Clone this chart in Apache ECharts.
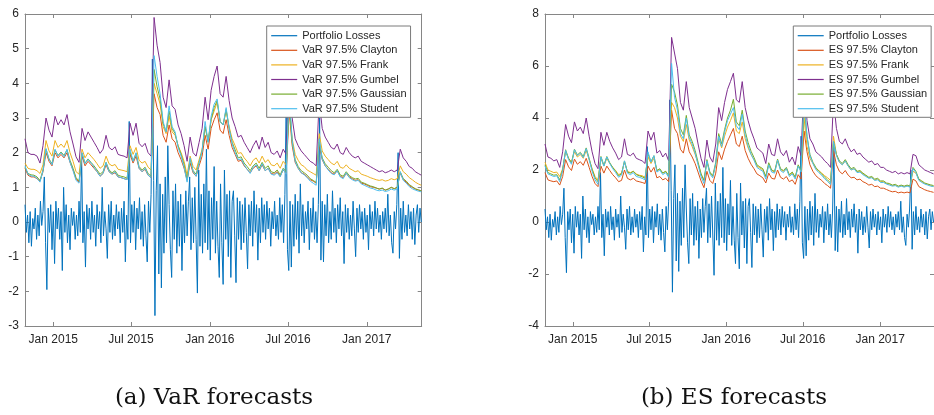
<!DOCTYPE html>
<html>
<head>
<meta charset="utf-8">
<script src="https://cdn.jsdelivr.net/npm/echarts@6/dist/echarts.min.js"></script>
<style>
  html, body { margin: 0; padding: 0; background: #fff; }
  #chart { width: 934px; height: 415px; }
</style>
</head>
<body>
<div id="chart"></div>
<script>
// x axis: daily dates from 27 Oct 2014, risk curves sampled weekly, losses every 3 days
const startDate = '2014-10-27'
const endDate = '2017-05-09'
const curveStepDays = 7
const lossStepDays = 3

const tickDates = ['2015-01-01', '2015-07-01', '2016-01-01', '2016-07-01', '2017-01-01']
const tickLabels = ['Jan 2015', 'Jul 2015', 'Jan 2016', 'Jul 2016', 'Jan 2017']

const losses = [
  0.5, -0.3, 0.2, -0.6, 0.3, -0.7, 0.1, -0.2, 0.4, -0.5,
  0.2, -0.4, 0.6, -0.1, 0.3, 1.3, -0.6, -1.95, 0.4, -0.3,
  0.5, -0.8, 0.3, -1.2, 0.6, -0.2, 0.4, -0.5, 0.3, -1.4,
  1.0, -0.3, 0.5, -0.6, 0.2, -0.8, 0.4, -0.1, 0.3, -0.5,
  0.2, -0.4, 0.6, -0.3, 1.9, -0.6, 0.3, -1.3, 0.5, -0.2,
  0.4, -0.5, 0.6, -0.3, 0.2, -0.7, 0.5, -0.2, 0.3, -0.6,
  1.0, -0.4, 0.3, -0.2, -1.05, 0.5, -0.3, 0.6, -0.5, 0.2,
  -0.4, 0.5, -0.2, 0.3, -0.6, 0.4, -0.3, 0.6, -1.15, 0.2,
  -0.5, 2.9, -0.6, 0.5, -0.3, 0.6, -0.8, 0.4, -0.2, 0.7,
  -0.5, 0.3, -0.7, 0.5, -0.4, -1.15, 0.6, -0.3, 0.8, 4.7,
  1.2, -2.7, 0.9, 2.2, -1.5, 1.1, -1.9, 0.8, -0.9, 1.3,
  -0.6, 2.2, 0.5, -0.8, -1.6, 0.9, -0.5, 1.1, -0.9, 0.6,
  -0.7, 0.8, -1.4, 0.5, -0.6, 0.9, -0.4, 0.6, 1.3, -0.8,
  0.7, -0.6, 1.0, -0.5, -2.05, 1.5, -0.7, 0.8, -0.9, 1.1,
  -0.6, 2.1, -0.8, 0.9, -1.1, 0.7, -0.5, 1.6, -0.9, 0.6,
  -0.7, -1.6, 1.1, -0.6, -1.8, 1.5, -0.5, 0.8, -1.0, 0.9,
  -1.6, 0.6, 0.9, -0.4, -1.75, 0.7, -0.5, 0.6, -0.8, 0.5,
  -0.6, 0.7, -0.3, -1.35, 0.5, -0.4, 0.6, -0.7, 0.9, -0.3,
  0.5, -1.1, 0.4, -0.6, 0.7, -0.3, 0.5, -0.5, 0.6, -0.2,
  0.4, -0.7, 0.3, -0.2, 0.6, -0.4, 0.2, -0.5, 0.7, -0.3,
  0.5, -0.6, 0.8, 3.3, -0.8, -1.4, 0.6, -1.3, 0.5, -0.7,
  0.8, -0.5, 0.6, -0.9, 1.1, -0.4, 0.5, -0.6, 0.3, -0.2,
  0.6, -0.8, 0.4, -0.3, 0.7, -0.5, 0.3, -0.6, 0.5, 3.0,
  -1.1, 0.6, -1.15, 0.5, -0.4, 0.8, -0.6, 0.3, -0.5, 0.9,
  -0.3, 0.4, -0.6, 0.5, -0.2, 0.7, -0.4, 0.3, -1.2, 0.5,
  -0.3, 0.4, -0.5, 0.2, -0.4, 0.6, -0.2, -1.0, 0.4, -0.3,
  0.5, -0.2, 0.3, -0.5, 0.4, -0.3, 0.2, -0.8, 0.5, -0.2,
  0.3, -0.4, 0.6, -0.2, 0.4, -0.3, 0.2, -0.5, 0.3, -0.2,
  0.4, -0.3, 0.8, -0.4, 0.2, -0.6, -0.9, 0.3, -0.2, 0.5,
  2.0, -1.05, 0.4, -0.5, 0.6, -0.3, 0.2, -0.4, 0.5, -0.2,
  0.3, -0.5, 0.4, -0.65, 0.2, 0.5, -0.3, 0.4, 0.0
]

// (a) VaR 97.5%
const varClayton = [
  1.55, 1.35, 1.30, 1.30, 1.25, 1.18, 1.45, 2.00, 1.75, 1.62,
  2.00, 1.85, 1.95, 1.85, 2.00, 1.72, 1.50, 1.25, 1.15, 1.90,
  1.62, 1.75, 1.65, 1.55, 1.45, 1.32, 1.40, 1.65, 1.45, 1.38,
  1.42, 1.30, 1.28, 1.25, 1.22, 1.95, 1.70, 1.90, 1.55, 1.45,
  1.52, 1.35, 1.28, 3.70, 3.30, 3.10, 2.50, 2.30, 2.80, 2.40,
  2.30, 2.00, 1.80, 1.55, 1.20, 1.70, 1.42, 1.32, 1.62, 1.90,
  2.50, 2.10, 2.70, 2.95, 3.15, 2.65, 2.55, 2.95, 2.50, 2.15,
  1.95, 1.75, 1.78, 1.62, 1.52, 1.42, 1.55, 1.62, 1.48, 1.65,
  1.48, 1.55, 1.40, 1.38, 1.45, 1.32, 1.50, 1.40, 3.20, 2.20,
  1.72, 1.55, 1.42, 1.38, 1.30, 1.22, 1.18, 1.12, 2.25, 1.80,
  1.62, 1.52, 1.42, 1.38, 1.48, 1.32, 1.28, 1.40, 1.30, 1.25,
  1.20, 1.22, 1.12, 1.10, 1.06, 1.02, 1.00, 0.98, 0.95, 0.97,
  0.92, 0.95, 1.00, 0.96, 1.00, 1.42, 1.22, 1.15, 1.05, 1.00,
  0.95, 0.92, 0.90
]
const varFrank = [
  1.70, 1.55, 1.52, 1.52, 1.48, 1.40, 1.65, 2.35, 2.05, 1.90,
  2.35, 2.15, 2.25, 2.15, 2.35, 2.00, 1.75, 1.45, 1.38, 2.10,
  1.85, 2.00, 1.90, 1.80, 1.68, 1.55, 1.62, 1.90, 1.68, 1.62,
  1.66, 1.52, 1.50, 1.48, 1.45, 2.20, 1.95, 2.15, 1.78, 1.70,
  1.75, 1.58, 1.50, 4.00, 3.70, 3.40, 2.75, 2.55, 3.05, 2.60,
  2.50, 2.20, 2.00, 1.75, 1.35, 1.90, 1.60, 1.50, 1.80, 2.10,
  2.75, 2.35, 2.95, 3.20, 3.45, 2.90, 2.80, 3.20, 2.75, 2.40,
  2.20, 1.98, 2.00, 1.85, 1.75, 1.62, 1.78, 1.85, 1.70, 1.90,
  1.72, 1.80, 1.65, 1.62, 1.70, 1.55, 1.75, 1.65, 3.40, 2.40,
  1.95, 1.78, 1.65, 1.60, 1.50, 1.45, 1.40, 1.35, 2.55, 2.05,
  1.90, 1.80, 1.70, 1.65, 1.75, 1.58, 1.55, 1.65, 1.55, 1.50,
  1.45, 1.48, 1.38, 1.35, 1.32, 1.28, 1.25, 1.22, 1.20, 1.22,
  1.18, 1.20, 1.25, 1.22, 1.25, 1.62, 1.45, 1.38, 1.28, 1.22,
  1.15, 1.10, 1.06
]
const varGumbel = [
  2.40, 2.00, 1.95, 1.95, 1.90, 1.70, 2.20, 3.00, 2.65, 2.45,
  3.05, 2.80, 2.95, 2.80, 3.10, 2.60, 2.25, 1.88, 1.72, 2.70,
  2.35, 2.60, 2.45, 2.30, 2.15, 1.98, 2.10, 2.50, 2.15, 2.08,
  2.17, 1.95, 1.92, 1.90, 1.85, 2.85, 2.50, 2.85, 2.27, 2.17,
  2.27, 2.00, 1.90, 5.90, 5.10, 4.60, 3.60, 3.30, 4.10, 3.35,
  3.25, 2.80, 2.55, 2.20, 1.75, 2.45, 2.00, 1.90, 2.30, 2.70,
  3.60, 2.95, 3.80, 4.20, 4.50, 3.70, 3.60, 4.20, 3.50, 3.00,
  2.75, 2.45, 2.50, 2.30, 2.15, 2.00, 2.20, 2.35, 2.10, 2.45,
  2.15, 2.30, 2.00, 1.95, 2.05, 1.85, 2.10, 1.95, 4.40, 3.00,
  2.40, 2.20, 2.05, 1.95, 1.85, 1.75, 1.70, 1.62, 3.50, 2.70,
  2.45, 2.30, 2.15, 2.10, 2.25, 2.00, 1.95, 2.15, 2.00, 1.90,
  1.85, 1.90, 1.75, 1.70, 1.65, 1.60, 1.55, 1.50, 1.45, 1.48,
  1.42, 1.45, 1.50, 1.45, 1.50, 2.10, 1.85, 1.75, 1.60, 1.55,
  1.45, 1.40, 1.35
]
const varGaussian = [
  1.58, 1.40, 1.36, 1.35, 1.30, 1.20, 1.50, 2.10, 1.82, 1.68,
  2.08, 1.92, 2.02, 1.92, 2.08, 1.78, 1.55, 1.28, 1.18, 1.98,
  1.70, 1.82, 1.72, 1.62, 1.50, 1.38, 1.45, 1.72, 1.50, 1.42,
  1.48, 1.35, 1.32, 1.30, 1.26, 2.02, 1.76, 1.98, 1.60, 1.50,
  1.58, 1.40, 1.32, 4.40, 3.90, 3.55, 2.85, 2.60, 3.20, 2.70,
  2.55, 2.20, 1.95, 1.65, 1.22, 1.80, 1.48, 1.38, 1.72, 2.05,
  2.75, 2.30, 2.95, 3.30, 3.50, 2.90, 2.80, 3.25, 2.70, 2.30,
  2.08, 1.85, 1.88, 1.70, 1.60, 1.48, 1.62, 1.70, 1.55, 1.72,
  1.55, 1.62, 1.45, 1.42, 1.50, 1.36, 1.55, 1.45, 3.50, 2.30,
  1.80, 1.60, 1.48, 1.42, 1.35, 1.25, 1.20, 1.14, 2.30, 1.85,
  1.68, 1.58, 1.48, 1.42, 1.52, 1.36, 1.32, 1.45, 1.34, 1.28,
  1.24, 1.26, 1.15, 1.12, 1.08, 1.04, 1.02, 0.98, 0.95, 0.98,
  0.92, 0.95, 1.00, 0.96, 1.00, 1.45, 1.25, 1.18, 1.08, 1.02,
  0.96, 0.93, 0.90
]
const varStudent = [
  1.62, 1.38, 1.33, 1.32, 1.26, 1.15, 1.48, 2.12, 1.80, 1.65,
  2.10, 1.90, 2.00, 1.88, 2.10, 1.72, 1.48, 1.20, 1.12, 2.00,
  1.68, 1.80, 1.70, 1.58, 1.45, 1.32, 1.40, 1.72, 1.45, 1.38,
  1.45, 1.30, 1.28, 1.25, 1.22, 2.10, 1.75, 2.00, 1.55, 1.45,
  1.55, 1.35, 1.28, 4.80, 4.20, 3.70, 2.90, 2.60, 3.35, 2.75,
  2.60, 2.15, 1.90, 1.58, 1.15, 1.85, 1.45, 1.32, 1.70, 2.05,
  2.90, 2.30, 3.05, 3.40, 3.55, 2.90, 2.80, 3.30, 2.70, 2.25,
  2.00, 1.80, 1.82, 1.65, 1.52, 1.40, 1.58, 1.65, 1.48, 1.68,
  1.48, 1.55, 1.38, 1.35, 1.42, 1.30, 1.52, 1.38, 3.80, 2.35,
  1.75, 1.55, 1.42, 1.36, 1.28, 1.18, 1.12, 1.06, 2.40, 1.82,
  1.62, 1.50, 1.40, 1.36, 1.48, 1.30, 1.25, 1.42, 1.28, 1.22,
  1.18, 1.20, 1.10, 1.06, 1.02, 0.98, 0.96, 0.92, 0.90, 0.92,
  0.88, 0.90, 0.95, 0.92, 0.95, 1.45, 1.20, 1.12, 1.02, 0.96,
  0.92, 0.89, 0.87
]

// (b) ES 97.5%
const esClayton = [
  1.90, 1.62, 1.58, 1.55, 1.58, 1.42, 1.75, 2.40, 2.12, 1.98,
  2.42, 2.22, 2.32, 2.18, 2.45, 2.10, 1.75, 1.48, 1.36, 2.15,
  1.88, 2.15, 1.98, 1.82, 1.70, 1.55, 1.60, 2.00, 1.68, 1.62,
  1.68, 1.58, 1.55, 1.52, 1.48, 2.15, 1.92, 2.10, 1.70, 1.75,
  1.62, 1.68, 1.55, 4.30, 3.60, 3.40, 2.80, 2.65, 3.20, 2.70,
  2.50, 2.25, 1.92, 1.58, 1.32, 1.95, 1.60, 1.48, 1.88, 2.70,
  2.40, 2.80, 3.10, 3.35, 3.60, 3.00, 2.90, 3.30, 2.75, 2.45,
  2.22, 2.05, 1.85, 1.78, 1.70, 1.50, 1.88, 1.68, 1.65, 2.00,
  1.72, 1.65, 1.75, 1.55, 1.62, 1.45, 1.82, 1.65, 3.50, 2.70,
  2.20, 1.95, 1.78, 1.68, 1.60, 1.48, 1.40, 1.30, 2.75, 2.20,
  1.95, 1.85, 1.98, 1.80, 1.70, 1.72, 1.62, 1.65, 1.55, 1.50,
  1.42, 1.45, 1.36, 1.38, 1.30, 1.30, 1.25, 1.20, 1.16, 1.18,
  1.12, 1.15, 1.12, 1.15, 1.12, 1.65, 1.58, 1.36, 1.30, 1.24,
  1.20, 1.17, 1.14
]
const esFrank = [
  2.30, 2.00, 1.95, 1.90, 1.92, 1.75, 2.05, 2.70, 2.45, 2.30,
  2.70, 2.50, 2.60, 2.45, 2.75, 2.40, 2.05, 1.75, 1.62, 2.45,
  2.15, 2.45, 2.25, 2.10, 1.98, 1.82, 1.88, 2.30, 1.95, 1.90,
  1.95, 1.85, 1.80, 1.78, 1.72, 2.50, 2.25, 2.45, 1.98, 2.02,
  1.88, 1.95, 1.80, 4.60, 4.40, 4.00, 3.30, 3.10, 3.75, 3.15,
  2.90, 2.60, 2.25, 1.85, 1.60, 2.30, 1.90, 1.75, 2.20, 3.20,
  2.85, 3.30, 3.65, 3.90, 4.20, 3.50, 3.40, 3.85, 3.20, 2.85,
  2.60, 2.40, 2.15, 2.08, 2.00, 1.75, 2.20, 1.98, 1.92, 2.35,
  2.02, 1.95, 2.05, 1.80, 1.90, 1.72, 2.15, 1.95, 4.00, 2.90,
  2.45, 2.25, 2.05, 1.98, 1.88, 1.78, 1.70, 1.60, 3.30, 2.60,
  2.30, 2.20, 2.35, 2.15, 2.00, 2.05, 1.92, 1.95, 1.85, 1.78,
  1.70, 1.72, 1.62, 1.65, 1.55, 1.55, 1.48, 1.45, 1.40, 1.42,
  1.36, 1.40, 1.36, 1.40, 1.36, 1.95, 1.88, 1.62, 1.55, 1.48,
  1.45, 1.40, 1.37
]
const esGumbel = [
  3.00, 2.50, 2.45, 2.35, 2.40, 2.10, 2.70, 3.75, 3.30, 3.05,
  3.85, 3.50, 3.65, 3.40, 4.00, 3.30, 2.70, 2.25, 2.05, 3.45,
  2.95, 3.45, 3.10, 2.85, 2.65, 2.40, 2.50, 3.20, 2.60, 2.55,
  2.65, 2.45, 2.40, 2.35, 2.25, 3.50, 3.15, 3.45, 2.65, 2.75,
  2.50, 2.65, 2.35, 7.10, 6.50, 5.90, 4.60, 4.30, 5.40, 4.40,
  4.00, 3.60, 3.00, 2.45, 2.10, 3.15, 2.50, 2.30, 3.00, 4.40,
  3.90, 4.60, 5.10, 5.40, 5.72, 4.70, 4.60, 5.40, 4.40, 3.90,
  3.50, 3.20, 2.85, 2.75, 2.65, 2.25, 3.00, 2.60, 2.55, 3.20,
  2.70, 2.55, 2.75, 2.30, 2.50, 2.20, 2.90, 2.55, 5.50, 3.90,
  3.20, 3.00, 2.70, 2.60, 2.50, 2.35, 2.25, 2.10, 4.70, 3.60,
  3.10, 3.00, 3.20, 2.90, 2.70, 2.80, 2.60, 2.65, 2.50, 2.40,
  2.30, 2.35, 2.20, 2.25, 2.10, 2.10, 2.00, 1.95, 1.90, 1.95,
  1.85, 1.90, 1.85, 1.90, 1.85, 2.60, 2.55, 2.20, 2.10, 2.00,
  1.95, 1.90, 1.85
]
const esGaussian = [
  2.20, 1.90, 1.85, 1.80, 1.82, 1.62, 2.00, 2.78, 2.45, 2.28,
  2.80, 2.58, 2.68, 2.52, 2.85, 2.45, 2.02, 1.70, 1.55, 2.52,
  2.18, 2.52, 2.28, 2.10, 1.95, 1.78, 1.85, 2.35, 1.92, 1.88,
  1.95, 1.82, 1.78, 1.74, 1.68, 2.62, 2.32, 2.55, 1.98, 2.05,
  1.88, 1.95, 1.78, 5.30, 5.00, 4.50, 3.60, 3.35, 4.10, 3.35,
  3.10, 2.75, 2.30, 1.85, 1.60, 2.40, 1.92, 1.78, 2.30, 3.40,
  3.00, 3.55, 4.00, 4.30, 4.72, 3.85, 3.70, 4.30, 3.50, 3.05,
  2.72, 2.48, 2.20, 2.12, 2.05, 1.75, 2.28, 2.00, 1.95, 2.42,
  2.05, 1.98, 2.10, 1.82, 1.92, 1.72, 2.20, 1.98, 4.50, 3.30,
  2.60, 2.30, 2.10, 1.95, 1.85, 1.72, 1.62, 1.50, 3.10, 2.60,
  2.35, 2.25, 2.40, 2.20, 2.05, 2.10, 1.95, 1.98, 1.88, 1.80,
  1.72, 1.75, 1.65, 1.68, 1.58, 1.58, 1.50, 1.48, 1.42, 1.45,
  1.38, 1.42, 1.38, 1.42, 1.38, 2.10, 1.95, 1.65, 1.58, 1.50,
  1.46, 1.43, 1.40
]
const esStudent = [
  2.15, 1.85, 1.80, 1.75, 1.78, 1.55, 1.98, 2.75, 2.40, 2.22,
  2.78, 2.55, 2.65, 2.48, 2.82, 2.40, 1.95, 1.62, 1.45, 2.50,
  2.15, 2.50, 2.25, 2.05, 1.90, 1.72, 1.80, 2.35, 1.88, 1.82,
  1.90, 1.75, 1.72, 1.68, 1.62, 2.70, 2.30, 2.55, 1.92, 2.00,
  1.82, 1.90, 1.72, 6.10, 4.80, 4.30, 3.40, 3.20, 4.00, 3.25,
  3.00, 2.65, 2.20, 1.75, 1.48, 2.35, 1.85, 1.70, 2.25, 3.30,
  2.90, 3.45, 3.90, 4.15, 4.40, 3.70, 3.55, 4.15, 3.35, 2.92,
  2.60, 2.38, 2.10, 2.02, 1.95, 1.65, 2.20, 1.92, 1.88, 2.38,
  1.98, 1.90, 2.05, 1.75, 1.85, 1.65, 2.15, 1.92, 4.80, 3.30,
  2.55, 2.25, 2.02, 1.90, 1.80, 1.66, 1.56, 1.44, 3.10, 2.55,
  2.30, 2.20, 2.35, 2.15, 2.00, 2.05, 1.90, 1.92, 1.82, 1.75,
  1.68, 1.70, 1.60, 1.62, 1.52, 1.52, 1.46, 1.42, 1.38, 1.40,
  1.34, 1.38, 1.34, 1.38, 1.34, 2.05, 1.90, 1.60, 1.52, 1.46,
  1.42, 1.38, 1.36
]

const colors = ['#0072BD', '#D95319', '#EDB120', '#7E2F8E', '#77AC30', '#4DBEEE']
const copulas = ['Clayton', 'Frank', 'Gumbel', 'Gaussian', 'Student']

const DAY = 86400000
const ts = (s) => Date.parse(s + 'T00:00:00Z')
const t0 = ts(startDate)
const t1 = ts(endDate)
const withDates = (values, step) => values.map((v, i) => [t0 + i * step * DAY, v])

const tickValues = tickDates.map(ts)
const labelFor = {}
tickValues.forEach((t, i) => { labelFor[t] = tickLabels[i] })

const axisColor = '#868686'
const textColor = '#262626'
const sans = 'Liberation Sans, Arial, sans-serif'

// dates are plotted on a value axis (ms timestamps) so the ticks can sit on the 1st of Jan / Jul
const makeXAxes = (gridIndex) => [
  {
    type: 'value', gridIndex, min: t0, max: t1, scale: true,
    axisLine: { onZero: false, lineStyle: { color: axisColor, width: 1 } },
    axisTick: { inside: true, length: 4, customValues: tickValues, lineStyle: { color: axisColor } },
    axisLabel: {
      customValues: tickValues, margin: 8, color: textColor, fontSize: 12, fontFamily: sans,
      formatter: (v) => labelFor[v] || ''
    },
    splitLine: { show: false }
  },
  {
    type: 'value', gridIndex, position: 'top', min: t0, max: t1, scale: true,
    axisLine: { onZero: false, lineStyle: { color: axisColor, width: 1 } },
    axisTick: { inside: true, length: 4, customValues: tickValues, lineStyle: { color: axisColor } },
    axisLabel: { show: false },
    splitLine: { show: false }
  }
]

const makeYAxes = (gridIndex, min, max, interval) => [
  {
    type: 'value', gridIndex, min, max, interval,
    axisLine: { show: true, onZero: false, lineStyle: { color: axisColor, width: 1 } },
    axisTick: { show: true, inside: true, length: 4, lineStyle: { color: axisColor } },
    axisLabel: { margin: 6, color: textColor, fontSize: 12, fontFamily: sans },
    splitLine: { show: false }
  },
  {
    type: 'value', gridIndex, position: 'right', min, max, interval,
    axisLine: { show: true, onZero: false, lineStyle: { color: axisColor, width: 1 } },
    axisTick: { show: true, inside: true, length: 4, lineStyle: { color: axisColor } },
    axisLabel: { show: false },
    splitLine: { show: false }
  }
]

const lineSeries = (name, values, step, color, xAxisIndex, yAxisIndex) => ({
  name, type: 'line', xAxisIndex, yAxisIndex,
  data: withDates(values, step),
  symbol: 'none', showSymbol: false,
  lineStyle: { color, width: 1 },
  itemStyle: { color },
  emphasis: { disabled: true }
})

const varSets = [varClayton, varFrank, varGumbel, varGaussian, varStudent]
const esSets = [esClayton, esFrank, esGumbel, esGaussian, esStudent]
const varNames = copulas.map(c => 'VaR 97.5% ' + c)
const esNames = copulas.map(c => 'ES 97.5% ' + c)

const series = [lineSeries('Portfolio Losses', losses, lossStepDays, colors[0], 0, 0)]
varSets.forEach((vals, k) => series.push(lineSeries(varNames[k], vals, curveStepDays, colors[k + 1], 0, 0)))
series.push(lineSeries('Portfolio Losses', losses, lossStepDays, colors[0], 2, 2))
esSets.forEach((vals, k) => series.push(lineSeries(esNames[k], vals, curveStepDays, colors[k + 1], 2, 2)))

// legend keys are plain thin lines, as in the MATLAB legend
const legendBase = {
  orient: 'vertical', top: 26,
  backgroundColor: '#fff', borderColor: '#7a7a7a', borderWidth: 1,
  icon: 'rect', itemWidth: 26, itemHeight: 1.2, itemGap: 2.6,
  textStyle: { color: textColor, fontSize: 11, fontFamily: sans, lineHeight: 12 },
  selectedMode: false
}

const chart = echarts.init(document.getElementById('chart'), null, { renderer: 'canvas' })
chart.setOption({
  animation: false,
  grid: [
    { left: 25, top: 14, width: 396.7, height: 312 },
    { left: 545, top: 14, width: 396.7, height: 312 }
  ],
  xAxis: [...makeXAxes(0), ...makeXAxes(1)],
  yAxis: [...makeYAxes(0, -3, 6, 1), ...makeYAxes(1, -4, 8, 2)],
  legend: [
    Object.assign({}, legendBase, { left: 266.7, padding: [3.7, 4, 2.6, 4.5], data: ['Portfolio Losses', ...varNames] }),
    Object.assign({}, legendBase, { left: 793.3, padding: [3.7, 4, 2.6, 4.4], data: ['Portfolio Losses', ...esNames] })
  ],
  series,
  graphic: [
    { type: 'text', x: 214, y: 398, style: { text: '(a) VaR forecasts', align: 'center', verticalAlign: 'middle', font: '23px "DejaVu Serif", serif', fill: '#111' } },
    { type: 'text', x: 734, y: 398, style: { text: '(b) ES forecasts', align: 'center', verticalAlign: 'middle', font: '23px "DejaVu Serif", serif', fill: '#111' } }
  ]
})
</script>
</body>
</html>
